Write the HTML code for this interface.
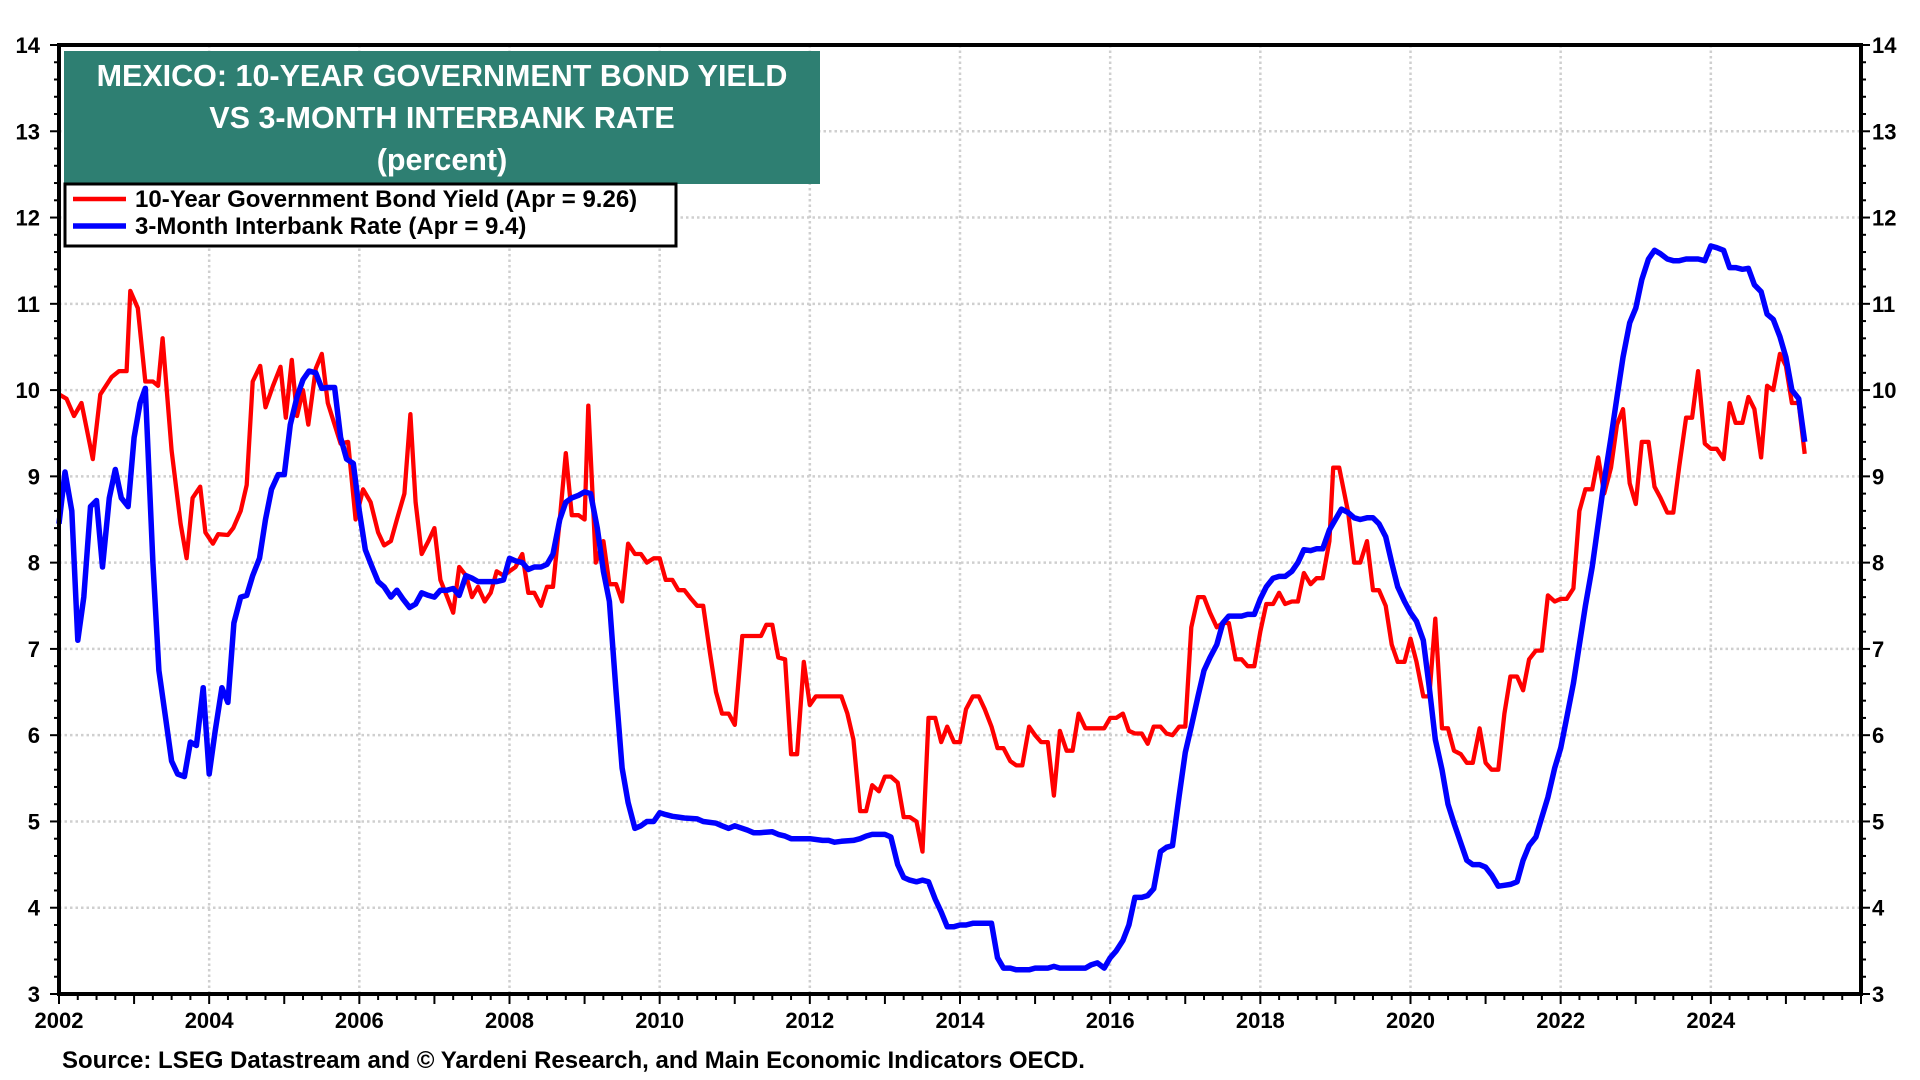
<!DOCTYPE html>
<html><head><meta charset="utf-8"><style>
html,body{margin:0;padding:0;background:#fff;}
svg{display:block;font-family:"Liberation Sans",Arial,sans-serif;}
</style></head><body>
<svg id="chart" width="1920" height="1080" viewBox="0 0 1920 1080">
<g id="grid"></g>
<g id="series"></g>
<g id="axes"></g>
<g>
<rect x="64" y="51" width="756" height="133" fill="#2e7f72"/>
<text x="442" y="86" text-anchor="middle" fill="#fff" font-weight="bold" font-size="30.5">MEXICO: 10-YEAR GOVERNMENT BOND YIELD</text>
<text x="442" y="128" text-anchor="middle" fill="#fff" font-weight="bold" font-size="30.5">VS 3-MONTH INTERBANK RATE</text>
<text x="442" y="170" text-anchor="middle" fill="#fff" font-weight="bold" font-size="30.5">(percent)</text>
</g>
<g>
<rect x="65" y="184" width="611" height="62" fill="#fff" stroke="#000" stroke-width="3"/>
<line x1="73" y1="199" x2="126" y2="199" stroke="#ff0000" stroke-width="4.5"/>
<text x="135" y="207" font-weight="bold" font-size="24">10-Year Government Bond Yield (Apr = 9.26)</text>
<line x1="73" y1="226" x2="126" y2="226" stroke="#0000ff" stroke-width="5.5"/>
<text x="135" y="234" font-weight="bold" font-size="24">3-Month Interbank Rate (Apr = 9.4)</text>
</g>
<text x="62" y="1068" font-weight="bold" font-size="24">Source: LSEG Datastream and © Yardeni Research, and Main Economic Indicators OECD.</text>
</svg>
<script>
const redDates=[2002.0,2002.1,2002.2,2002.3,2002.45,2002.55,2002.7,2002.8,2002.9,2002.95,2003.05,2003.15,2003.25,2003.32,2003.38,2003.5,2003.62,2003.7,2003.78,2003.88,2003.95,2004.05,2004.12,2004.25,2004.32,2004.42,2004.5,2004.58,2004.68,2004.75,2004.85,2004.95,2005.02,2005.1,2005.17,2005.25,2005.32,2005.42,2005.5,2005.58,2005.67,2005.75,2005.85,2005.95,2006.05,2006.15,2006.25,2006.33,2006.42,2006.5,2006.6,2006.68,2006.75,2006.83,2006.92,2007.0,2007.08,2007.17,2007.25,2007.33,2007.42,2007.5,2007.58,2007.67,2007.75,2007.83,2007.92,2008.0,2008.08,2008.17,2008.25,2008.33,2008.42,2008.5,2008.58,2008.67,2008.75,2008.83,2008.92,2009.0,2009.05,2009.15,2009.25,2009.33,2009.42,2009.5,2009.58,2009.67,2009.75,2009.83,2009.92,2010.0,2010.08,2010.17,2010.25,2010.33,2010.42,2010.5,2010.58,2010.67,2010.75,2010.83,2010.92,2011.0,2011.1,2011.25,2011.35,2011.42,2011.5,2011.58,2011.67,2011.75,2011.83,2011.92,2012.0,2012.08,2012.25,2012.42,2012.5,2012.58,2012.67,2012.75,2012.83,2012.92,2013.0,2013.08,2013.17,2013.25,2013.33,2013.42,2013.5,2013.58,2013.67,2013.75,2013.83,2013.92,2014.0,2014.08,2014.17,2014.25,2014.33,2014.42,2014.5,2014.58,2014.67,2014.75,2014.83,2014.92,2015.0,2015.08,2015.17,2015.25,2015.33,2015.42,2015.5,2015.58,2015.67,2015.75,2015.92,2016.0,2016.08,2016.17,2016.25,2016.33,2016.42,2016.5,2016.58,2016.67,2016.75,2016.83,2016.92,2017.0,2017.08,2017.17,2017.25,2017.33,2017.42,2017.5,2017.58,2017.67,2017.75,2017.83,2017.92,2018.0,2018.08,2018.17,2018.25,2018.33,2018.42,2018.5,2018.58,2018.67,2018.75,2018.83,2018.92,2018.97,2019.05,2019.17,2019.25,2019.33,2019.42,2019.5,2019.58,2019.67,2019.75,2019.83,2019.92,2020.0,2020.08,2020.17,2020.25,2020.33,2020.42,2020.5,2020.58,2020.67,2020.75,2020.83,2020.92,2021.0,2021.08,2021.17,2021.25,2021.33,2021.42,2021.5,2021.58,2021.67,2021.75,2021.83,2021.92,2022.0,2022.08,2022.17,2022.25,2022.33,2022.42,2022.5,2022.58,2022.67,2022.75,2022.83,2022.92,2023.0,2023.08,2023.17,2023.25,2023.33,2023.42,2023.5,2023.58,2023.67,2023.75,2023.83,2023.92,2024.0,2024.08,2024.17,2024.25,2024.33,2024.42,2024.5,2024.58,2024.67,2024.75,2024.83,2024.92,2025.0,2025.08,2025.17,2025.25];
const redValues=[9.95,9.9,9.7,9.85,9.2,9.95,10.15,10.22,10.22,11.15,10.95,10.1,10.1,10.05,10.6,9.3,8.45,8.05,8.75,8.88,8.35,8.22,8.33,8.32,8.4,8.6,8.9,10.1,10.28,9.8,10.05,10.27,9.68,10.35,9.7,10.0,9.6,10.25,10.42,9.85,9.6,9.38,9.4,8.5,8.85,8.7,8.35,8.2,8.25,8.5,8.8,9.72,8.7,8.1,8.25,8.4,7.8,7.6,7.42,7.95,7.85,7.6,7.72,7.55,7.65,7.9,7.85,7.9,7.95,8.1,7.65,7.65,7.5,7.72,7.72,8.5,9.27,8.55,8.55,8.5,9.82,8.0,8.25,7.75,7.75,7.55,8.22,8.1,8.1,8.0,8.05,8.05,7.8,7.8,7.68,7.68,7.58,7.5,7.5,6.95,6.5,6.25,6.25,6.12,7.15,7.15,7.15,7.28,7.28,6.9,6.88,5.78,5.78,6.85,6.35,6.45,6.45,6.45,6.25,5.95,5.12,5.12,5.42,5.35,5.52,5.52,5.45,5.05,5.05,5.0,4.65,6.2,6.2,5.92,6.1,5.92,5.92,6.3,6.45,6.45,6.3,6.1,5.85,5.85,5.7,5.65,5.65,6.1,6.0,5.92,5.92,5.3,6.05,5.82,5.82,6.25,6.08,6.08,6.08,6.2,6.2,6.25,6.05,6.02,6.02,5.9,6.1,6.1,6.02,6.0,6.1,6.1,7.25,7.6,7.6,7.42,7.25,7.3,7.3,6.88,6.88,6.8,6.8,7.2,7.52,7.52,7.65,7.52,7.55,7.55,7.88,7.75,7.82,7.82,8.25,9.1,9.1,8.58,8.0,8.0,8.25,7.68,7.68,7.5,7.05,6.85,6.85,7.12,6.85,6.45,6.45,7.35,6.08,6.08,5.82,5.78,5.68,5.68,6.08,5.68,5.6,5.6,6.25,6.68,6.68,6.52,6.88,6.98,6.98,7.62,7.55,7.58,7.58,7.7,8.6,8.85,8.85,9.22,8.8,9.1,9.6,9.78,8.92,8.68,9.4,9.4,8.88,8.75,8.58,8.58,9.12,9.68,9.68,10.22,9.38,9.32,9.32,9.2,9.85,9.62,9.62,9.92,9.78,9.22,10.05,10.0,10.42,10.28,9.85,9.85,9.26];
const blueDates=[2002.0,2002.08,2002.17,2002.25,2002.33,2002.42,2002.5,2002.58,2002.67,2002.75,2002.83,2002.92,2003.0,2003.08,2003.15,2003.25,2003.33,2003.42,2003.5,2003.58,2003.67,2003.75,2003.83,2003.92,2004.0,2004.08,2004.17,2004.25,2004.33,2004.42,2004.5,2004.58,2004.67,2004.75,2004.83,2004.92,2005.0,2005.08,2005.17,2005.25,2005.33,2005.42,2005.5,2005.58,2005.67,2005.75,2005.83,2005.92,2006.0,2006.08,2006.17,2006.25,2006.33,2006.42,2006.5,2006.58,2006.67,2006.75,2006.83,2006.92,2007.0,2007.08,2007.17,2007.25,2007.33,2007.42,2007.5,2007.58,2007.67,2007.75,2007.83,2007.92,2008.0,2008.08,2008.17,2008.25,2008.33,2008.42,2008.5,2008.58,2008.67,2008.75,2008.83,2008.92,2009.0,2009.08,2009.17,2009.25,2009.33,2009.42,2009.5,2009.58,2009.67,2009.75,2009.83,2009.92,2010.0,2010.08,2010.17,2010.25,2010.33,2010.5,2010.58,2010.75,2010.83,2010.92,2011.0,2011.17,2011.25,2011.33,2011.5,2011.58,2011.67,2011.75,2012.0,2012.17,2012.25,2012.33,2012.42,2012.58,2012.67,2012.75,2012.83,2013.0,2013.08,2013.17,2013.25,2013.33,2013.42,2013.5,2013.58,2013.67,2013.75,2013.83,2013.92,2014.0,2014.08,2014.17,2014.25,2014.42,2014.5,2014.58,2014.67,2014.75,2014.83,2014.92,2015.0,2015.17,2015.25,2015.33,2015.5,2015.67,2015.75,2015.83,2015.92,2016.0,2016.08,2016.17,2016.25,2016.33,2016.42,2016.5,2016.58,2016.67,2016.75,2016.83,2016.92,2017.0,2017.08,2017.17,2017.25,2017.33,2017.42,2017.5,2017.58,2017.67,2017.75,2017.83,2017.92,2018.0,2018.08,2018.17,2018.25,2018.33,2018.42,2018.5,2018.58,2018.67,2018.75,2018.83,2018.92,2019.0,2019.08,2019.17,2019.25,2019.33,2019.42,2019.5,2019.58,2019.67,2019.75,2019.83,2019.92,2020.0,2020.08,2020.17,2020.25,2020.33,2020.42,2020.5,2020.58,2020.67,2020.75,2020.83,2020.92,2021.0,2021.08,2021.17,2021.25,2021.33,2021.42,2021.5,2021.58,2021.67,2021.75,2021.83,2021.92,2022.0,2022.08,2022.17,2022.25,2022.33,2022.42,2022.5,2022.58,2022.67,2022.75,2022.83,2022.92,2023.0,2023.08,2023.17,2023.25,2023.33,2023.42,2023.5,2023.58,2023.67,2023.75,2023.83,2023.92,2024.0,2024.08,2024.17,2024.25,2024.33,2024.42,2024.5,2024.58,2024.67,2024.75,2024.83,2024.92,2025.0,2025.08,2025.17,2025.25];
const blueValues=[8.45,9.05,8.6,7.1,7.6,8.65,8.72,7.95,8.75,9.08,8.75,8.65,9.45,9.85,10.02,8.0,6.75,6.2,5.7,5.55,5.52,5.92,5.88,6.55,5.55,6.05,6.55,6.38,7.3,7.6,7.62,7.85,8.05,8.5,8.85,9.02,9.02,9.6,9.92,10.12,10.22,10.2,10.02,10.03,10.03,9.45,9.2,9.15,8.6,8.15,7.95,7.78,7.72,7.6,7.68,7.58,7.48,7.52,7.65,7.62,7.6,7.68,7.68,7.7,7.62,7.85,7.82,7.78,7.78,7.78,7.78,7.8,8.05,8.02,8.0,7.92,7.95,7.95,7.98,8.1,8.5,8.7,8.75,8.78,8.82,8.8,8.4,7.9,7.55,6.5,5.62,5.22,4.92,4.95,5.0,5.0,5.1,5.08,5.06,5.05,5.04,5.03,5.0,4.98,4.95,4.92,4.95,4.9,4.87,4.87,4.88,4.85,4.83,4.8,4.8,4.78,4.78,4.76,4.77,4.78,4.8,4.83,4.85,4.85,4.82,4.5,4.35,4.32,4.3,4.32,4.3,4.1,3.95,3.78,3.78,3.8,3.8,3.82,3.82,3.82,3.42,3.3,3.3,3.28,3.28,3.28,3.3,3.3,3.32,3.3,3.3,3.3,3.34,3.36,3.3,3.42,3.5,3.62,3.8,4.12,4.12,4.14,4.22,4.65,4.7,4.72,5.3,5.8,6.1,6.45,6.75,6.9,7.05,7.3,7.38,7.38,7.38,7.4,7.4,7.58,7.72,7.82,7.84,7.84,7.9,8.0,8.15,8.14,8.16,8.16,8.38,8.5,8.62,8.58,8.52,8.5,8.52,8.52,8.45,8.3,8.0,7.72,7.55,7.42,7.32,7.1,6.55,5.95,5.6,5.2,4.98,4.75,4.55,4.5,4.5,4.47,4.38,4.25,4.26,4.27,4.3,4.55,4.72,4.82,5.05,5.28,5.62,5.85,6.2,6.6,7.05,7.5,7.95,8.45,8.95,9.45,9.92,10.38,10.78,10.95,11.28,11.52,11.62,11.58,11.52,11.5,11.5,11.52,11.52,11.52,11.5,11.67,11.65,11.62,11.42,11.42,11.4,11.41,11.22,11.14,10.88,10.82,10.62,10.38,10.0,9.9,9.4];
const yTicks=[3,4,5,6,7,8,9,10,11,12,13,14];
const xTicks=[2002,2004,2006,2008,2010,2012,2014,2016,2018,2020,2022,2024];

const NS='http://www.w3.org/2000/svg';
const L=59,R=1861,T=45,B=994,X0=2002,X1=2026,Y0=3,Y1=14;
function xs(v){return L+(v-X0)/(X1-X0)*(R-L);}
function ys(v){return B-(v-Y0)/(Y1-Y0)*(B-T);}
function mk(tag,attrs,parent){const e=document.createElementNS(NS,tag);for(const k in attrs)e.setAttribute(k,attrs[k]);parent.appendChild(e);return e;}
const grid=document.getElementById('grid'),axes=document.getElementById('axes'),ser=document.getElementById('series');
yTicks.forEach(v=>{
  if(v>Y0&&v<Y1){const g=mk('line',{x1:L,x2:R,y1:ys(v),y2:ys(v),stroke:'#cfcfcf','stroke-width':2.5,'stroke-dasharray':'2.5 3'},grid);
  
  }
  const t1=mk('text',{x:40,y:ys(v)+8,'text-anchor':'end','font-weight':'bold','font-size':22},axes);t1.textContent=v;
  
  
  const t2=mk('text',{x:1872,y:ys(v)+8,'font-weight':'bold','font-size':22},axes);t2.textContent=v;
  
  
});
for(let v=Y0;v<=Y1+0.001;v+=0.2){const maj=Math.abs(v-Math.round(v))<0.01;const len=maj?9:5;
  mk('line',{x1:L-len,x2:L,y1:ys(v),y2:ys(v),stroke:'#000','stroke-width':2},axes);
  mk('line',{x1:R,x2:R+len,y1:ys(v),y2:ys(v),stroke:'#000','stroke-width':2},axes);}
xTicks.forEach(v=>{
  if(v>X0){const g=mk('line',{x1:xs(v),x2:xs(v),y1:T,y2:B,stroke:'#cfcfcf','stroke-width':2.5,'stroke-dasharray':'2.5 3'},grid);
  
  }
  const t=mk('text',{x:xs(v),y:1028,'text-anchor':'middle','font-weight':'bold','font-size':22},axes);t.textContent=v;
  
  
});
for(let v=X0;v<=X1+0.001;v+=0.25){const maj=Math.abs(v-Math.round(v))<0.01;
  mk('line',{x1:xs(v),x2:xs(v),y1:B,y2:B+(maj?10:6),stroke:'#000','stroke-width':2},axes);}
const frame=mk('rect',{x:L,y:T,width:R-L,height:B-T,fill:'none',stroke:'#000','stroke-width':4},axes);


function path(d,v){return d.map((x,i)=>(i?'L':'M')+xs(x).toFixed(1)+' '+ys(v[i]).toFixed(1)).join(' ');}
const pr=mk('path',{d:path(redDates,redValues),fill:'none',stroke:'#ff0000','stroke-width':4.3,'stroke-linejoin':'round'},ser);


const pb=mk('path',{d:path(blueDates,blueValues),fill:'none',stroke:'#0000ff','stroke-width':5.5,'stroke-linejoin':'round'},ser);


</script>
</body></html>
